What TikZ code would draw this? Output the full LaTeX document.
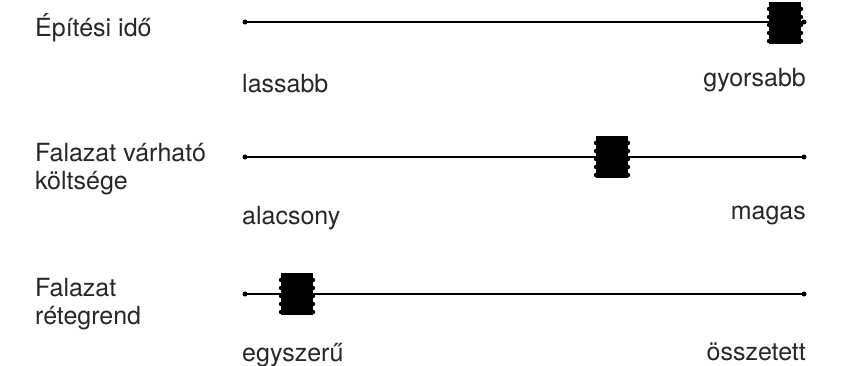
\documentclass[tikz,border=0pt]{standalone}
\usepackage{fontspec}
\setmainfont{TeX Gyre Heros}
\tikzset{
  lbl/.style={font=\fontsize{25}{28}\selectfont,text=black!85,inner sep=0pt},
  track/.style={line width=1.1pt,black},
}
\begin{document}
\begin{tikzpicture}[x=1pt,y=-1pt]
  \useasboundingbox (0,0) rectangle (843,365);

  % row 1
  \coordinate (a1) at (245,22);
  \coordinate (b1) at (804,22);
  \coordinate (k1) at (785,23);
  \node[lbl,anchor=west] (q1) at (35,28) {Építési idő};
  \draw[track] (a1) -- (b1);
  \fill (a1) circle [radius=2.5];
  \fill (b1) circle [radius=2.5];
  \fill ([shift={(-16,-21)}]k1) rectangle ([shift={(16,21)}]k1);
  \foreach \d in {-14,-6,2,10,18} {
    \fill ([shift={(-16,\d)}]k1) circle [radius=2.2];
    \fill ([shift={(16,\d)}]k1) circle [radius=2.2];
  }
  \node[lbl,anchor=west] (lo1) at (242,84) {lassabb};
  \node[lbl,anchor=east] (hi1) at (806,80) {gyorsabb};

  % row 2
  \coordinate (a2) at (245,157);
  \coordinate (b2) at (804,157);
  \coordinate (k2) at (612,157);
  \node[lbl,anchor=west,align=left] (q2) at (35,169) {Falazat várható\\költsége};
  \draw[track] (a2) -- (b2);
  \fill (a2) circle [radius=2.5];
  \fill (b2) circle [radius=2.5];
  \fill ([shift={(-16,-21)}]k2) rectangle ([shift={(16,21)}]k2);
  \foreach \d in {-14,-6,2,10,18} {
    \fill ([shift={(-16,\d)}]k2) circle [radius=2.2];
    \fill ([shift={(16,\d)}]k2) circle [radius=2.2];
  }
  \node[lbl,anchor=west] (lo2) at (242,218) {alacsony};
  \node[lbl,anchor=east] (hi2) at (806,215) {magas};

  % row 3
  \coordinate (a3) at (245,294);
  \coordinate (b3) at (804,294);
  \coordinate (k3) at (297,294);
  \node[lbl,anchor=west,align=left] (q3) at (35,304) {Falazat\\rétegrend};
  \draw[track] (a3) -- (b3);
  \fill (a3) circle [radius=2.5];
  \fill (b3) circle [radius=2.5];
  \fill ([shift={(-16,-21)}]k3) rectangle ([shift={(16,21)}]k3);
  \foreach \d in {-14,-6,2,10,18} {
    \fill ([shift={(-16,\d)}]k3) circle [radius=2.2];
    \fill ([shift={(16,\d)}]k3) circle [radius=2.2];
  }
  \node[lbl,anchor=west] (lo3) at (242,355) {egyszerű};
  \node[lbl,anchor=east] (hi3) at (806,352) {összetett};
\end{tikzpicture}
\end{document}
